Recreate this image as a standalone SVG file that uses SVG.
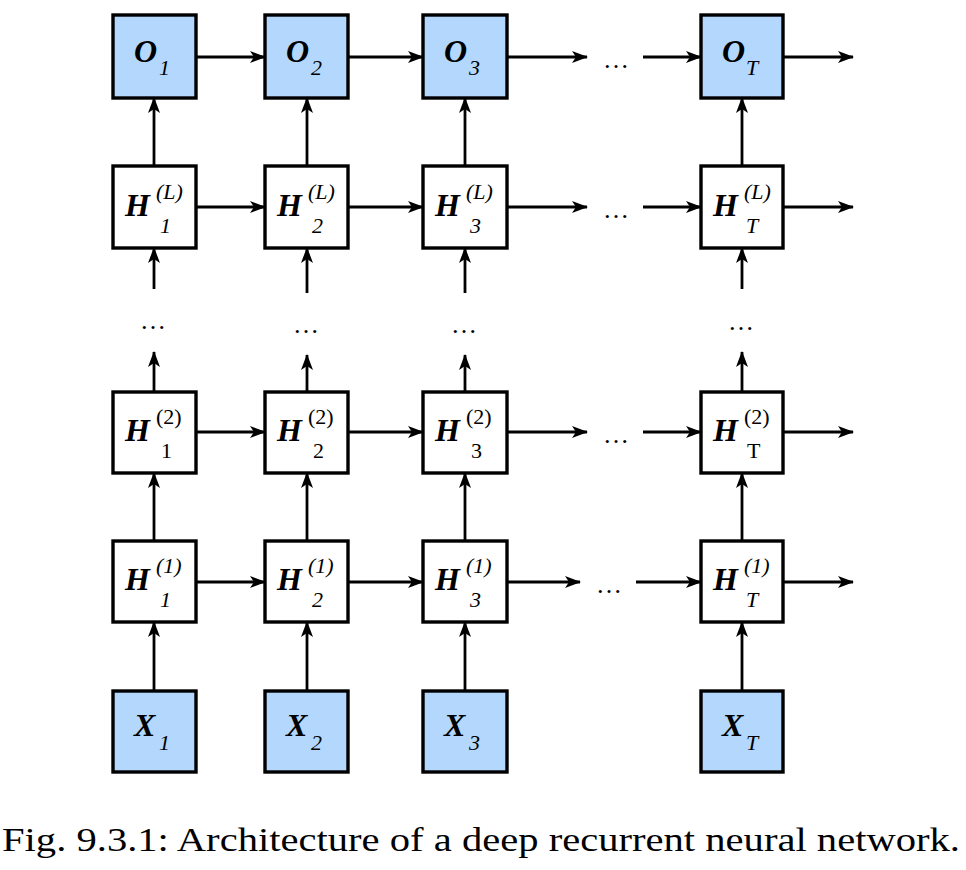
<svg xmlns="http://www.w3.org/2000/svg" width="966" height="870" viewBox="0 0 966 870">
<defs>
<marker id="ah" viewBox="0 0 16 13" refX="15" refY="6.5" markerWidth="16" markerHeight="13" markerUnits="userSpaceOnUse" orient="auto">
<path d="M0,0.5 L16,6.5 L0,12.5 L4,6.5 Z" fill="#000"/>
</marker>
</defs>
<style>
.box{stroke:#000;stroke-width:3.4;}
.in{fill:#b4d8fd;}
.hid{fill:#fff;}
.c{stroke:#000;stroke-width:2.8;fill:none;marker-end:url(#ah);}
text{font-family:"Liberation Serif","Times New Roman",serif;fill:#000;}
.m{font-weight:bold;font-style:italic;font-size:32px;}
.s{font-style:italic;font-size:22px;}
.su{font-size:22px;}
.d{font-size:26px;}
.cap{font-size:34px;}
</style>
<rect width="966" height="870" fill="#fff"/>
<g id="connectors">
<line class="c" x1="196" y1="57" x2="265" y2="57"/>
<line class="c" x1="348" y1="57" x2="423" y2="57"/>
<line class="c" x1="507" y1="57" x2="587" y2="57"/>
<line class="c" x1="643" y1="57" x2="701" y2="57"/>
<line class="c" x1="783" y1="57" x2="853" y2="57"/>
<line class="c" x1="196" y1="207" x2="265" y2="207"/>
<line class="c" x1="348" y1="207" x2="423" y2="207"/>
<line class="c" x1="507" y1="207" x2="587" y2="207"/>
<line class="c" x1="643" y1="207" x2="701" y2="207"/>
<line class="c" x1="783" y1="207" x2="853" y2="207"/>
<line class="c" x1="196" y1="432" x2="265" y2="432"/>
<line class="c" x1="348" y1="432" x2="423" y2="432"/>
<line class="c" x1="507" y1="432" x2="587" y2="432"/>
<line class="c" x1="643" y1="432" x2="701" y2="432"/>
<line class="c" x1="783" y1="432" x2="853" y2="432"/>
<line class="c" x1="196" y1="582" x2="265" y2="582"/>
<line class="c" x1="348" y1="582" x2="423" y2="582"/>
<line class="c" x1="507" y1="582" x2="580" y2="582"/>
<line class="c" x1="636" y1="582" x2="701" y2="582"/>
<line class="c" x1="783" y1="582" x2="853" y2="582"/>
<line class="c" x1="154" y1="691" x2="154" y2="622"/>
<line class="c" x1="154" y1="541" x2="154" y2="473"/>
<line class="c" x1="154" y1="392" x2="154" y2="352"/>
<line class="c" x1="154" y1="289" x2="154" y2="248"/>
<line class="c" x1="154" y1="166" x2="154" y2="98"/>
<line class="c" x1="307" y1="691" x2="307" y2="622"/>
<line class="c" x1="307" y1="541" x2="307" y2="473"/>
<line class="c" x1="307" y1="392" x2="307" y2="355"/>
<line class="c" x1="307" y1="293" x2="307" y2="248"/>
<line class="c" x1="307" y1="166" x2="307" y2="98"/>
<line class="c" x1="465" y1="691" x2="465" y2="622"/>
<line class="c" x1="465" y1="541" x2="465" y2="473"/>
<line class="c" x1="465" y1="392" x2="465" y2="355"/>
<line class="c" x1="465" y1="293" x2="465" y2="248"/>
<line class="c" x1="465" y1="166" x2="465" y2="98"/>
<line class="c" x1="742" y1="691" x2="742" y2="622"/>
<line class="c" x1="742" y1="541" x2="742" y2="473"/>
<line class="c" x1="742" y1="392" x2="742" y2="352"/>
<line class="c" x1="742" y1="289" x2="742" y2="248"/>
<line class="c" x1="742" y1="166" x2="742" y2="98"/>
</g>
<g id="ellipses">
<text class="d" x="603" y="68">…</text>
<text class="d" x="603" y="218">…</text>
<text class="d" x="603" y="443">…</text>
<text class="d" x="596" y="593">…</text>
<text class="d" x="140" y="329">…</text>
<text class="d" x="293" y="333">…</text>
<text class="d" x="451" y="333">…</text>
<text class="d" x="728" y="330">…</text>
</g>
<g id="O1"><rect class="box in" x="113" y="15" width="83" height="83"/><text class="m" x="134" y="62">O</text><text class="s" x="159" y="75">1</text></g>
<g id="O2"><rect class="box in" x="265" y="15" width="83" height="83"/><text class="m" x="286" y="62">O</text><text class="s" x="311" y="75">2</text></g>
<g id="O3"><rect class="box in" x="423" y="15" width="84" height="83"/><text class="m" x="444" y="62">O</text><text class="s" x="469" y="75">3</text></g>
<g id="OT"><rect class="box in" x="701" y="15" width="82" height="83"/><text class="m" x="722" y="62">O</text><text class="s" x="746" y="75">T</text></g>
<g id="HL1"><rect class="box hid" x="113" y="166" width="83" height="82"/><text class="m" x="125" y="216">H</text><text class="s" x="156" y="199">(L)</text><text class="s" x="160" y="233">1</text></g>
<g id="HL2"><rect class="box hid" x="265" y="166" width="83" height="82"/><text class="m" x="277" y="216">H</text><text class="s" x="308" y="199">(L)</text><text class="s" x="312" y="233">2</text></g>
<g id="HL3"><rect class="box hid" x="423" y="166" width="84" height="82"/><text class="m" x="435" y="216">H</text><text class="s" x="466" y="199">(L)</text><text class="s" x="470" y="233">3</text></g>
<g id="HLT"><rect class="box hid" x="701" y="166" width="82" height="82"/><text class="m" x="713" y="216">H</text><text class="s" x="744" y="199">(L)</text><text class="s" x="746" y="233">T</text></g>
<g id="H21"><rect class="box hid" x="113" y="392" width="83" height="81"/><text class="m" x="125" y="441">H</text><text class="su" x="156" y="424">(2)</text><text class="su" x="161" y="458">1</text></g>
<g id="H22"><rect class="box hid" x="265" y="392" width="83" height="81"/><text class="m" x="277" y="441">H</text><text class="su" x="308" y="424">(2)</text><text class="su" x="313" y="458">2</text></g>
<g id="H23"><rect class="box hid" x="423" y="392" width="84" height="81"/><text class="m" x="435" y="441">H</text><text class="su" x="466" y="424">(2)</text><text class="su" x="471" y="458">3</text></g>
<g id="H2T"><rect class="box hid" x="701" y="392" width="82" height="81"/><text class="m" x="713" y="441">H</text><text class="su" x="744" y="424">(2)</text><text class="su" x="747" y="458">T</text></g>
<g id="H11"><rect class="box hid" x="113" y="541" width="83" height="81"/><text class="m" x="125" y="590">H</text><text class="s" x="156" y="573">(1)</text><text class="s" x="160" y="607">1</text></g>
<g id="H12"><rect class="box hid" x="265" y="541" width="83" height="81"/><text class="m" x="277" y="590">H</text><text class="s" x="308" y="573">(1)</text><text class="s" x="312" y="607">2</text></g>
<g id="H13"><rect class="box hid" x="423" y="541" width="84" height="81"/><text class="m" x="435" y="590">H</text><text class="s" x="466" y="573">(1)</text><text class="s" x="470" y="607">3</text></g>
<g id="H1T"><rect class="box hid" x="701" y="541" width="82" height="81"/><text class="m" x="713" y="590">H</text><text class="s" x="744" y="573">(1)</text><text class="s" x="746" y="607">T</text></g>
<g id="X1"><rect class="box in" x="113" y="691" width="83" height="81"/><text class="m" x="134" y="736">X</text><text class="s" x="159" y="750">1</text></g>
<g id="X2"><rect class="box in" x="265" y="691" width="83" height="81"/><text class="m" x="286" y="736">X</text><text class="s" x="311" y="750">2</text></g>
<g id="X3"><rect class="box in" x="423" y="691" width="84" height="81"/><text class="m" x="444" y="736">X</text><text class="s" x="469" y="750">3</text></g>
<g id="XT"><rect class="box in" x="701" y="691" width="82" height="81"/><text class="m" x="722" y="736">X</text><text class="s" x="746" y="750">T</text></g>
<text class="cap" x="2" y="851" textLength="958" lengthAdjust="spacingAndGlyphs">Fig. 9.3.1: Architecture of a deep recurrent neural network.</text>
</svg>
